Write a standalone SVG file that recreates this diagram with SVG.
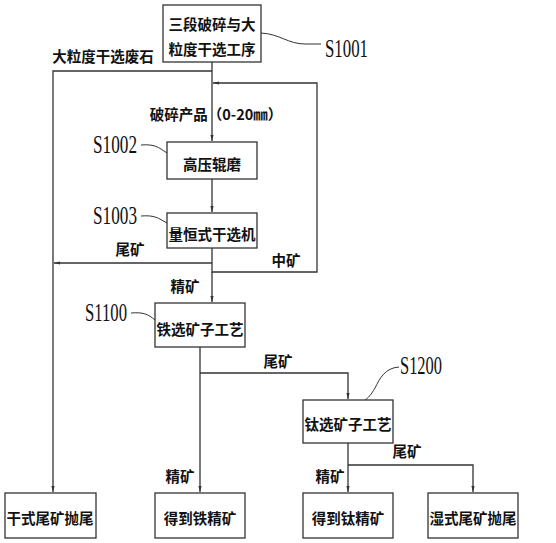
<svg xmlns="http://www.w3.org/2000/svg" width="556" height="543" viewBox="0 0 556 543">
<defs>
<marker id="ah" viewBox="0 0 6 4" refX="6" refY="2" markerWidth="6" markerHeight="4" markerUnits="userSpaceOnUse" orient="auto">
<path d="M0,0.4 L6,2 L0,3.6 z" fill="#333"/>
</marker>
<style>
.box{fill:#fff;stroke:#333;stroke-width:1.3}
.ln{fill:none;stroke:#333;stroke-width:1.3}
.ld{fill:none;stroke:#333;stroke-width:1}
.t{font-family:"Noto Sans CJK SC","Noto Sans",sans-serif;font-size:14.5px;fill:#111;text-anchor:middle;dominant-baseline:central;font-weight:700}
.s{font-family:"Liberation Serif",serif;font-size:25px;fill:#111}
</style>
</defs>
<rect width="556" height="543" fill="#fff"/>
<g id="connectors">
<path class="ln" d="M212,62 V141" marker-end="url(#ah)"/>
<path class="ln" d="M212,71 H53 V492" marker-end="url(#ah)"/>
<path class="ln" d="M212,179 V212" marker-end="url(#ah)"/>
<path class="ln" d="M212,248 V272 H317 V83 H213" marker-end="url(#ah)"/>
<path class="ln" d="M212,263 H54" marker-end="url(#ah)"/>
<path class="ln" d="M212,272 V302" marker-end="url(#ah)"/>
<path class="ln" d="M200,347 V492" marker-end="url(#ah)"/>
<path class="ln" d="M200,373 H348 V399" marker-end="url(#ah)"/>
<path class="ln" d="M348,443 V492" marker-end="url(#ah)"/>
<path class="ln" d="M348,465 H473 V492" marker-end="url(#ah)"/>
<path class="ld" d="M261,33 C280,34 288,44 305,44 L321,44"/>
<path class="ld" d="M141,145 C155,144 158,147 167,153"/>
<path class="ld" d="M141,216 C155,215 158,218 167,223"/>
<path class="ld" d="M131,313 C143,312 148,314 155,320"/>
<path class="ld" d="M399,367 C385,368 380,378 375,388 C371,395 368,398 365,400"/>
<text class="t" x="103" y="55">大粒度干选废石</text>
<text class="t" x="216" y="113">破碎产品（0-20㎜）</text>
<text class="t" x="130" y="248">尾矿</text>
<text class="t" x="286" y="259">中矿</text>
<text class="t" x="185" y="285">精矿</text>
<text class="t" x="278" y="360">尾矿</text>
<text class="t" x="407" y="450">尾矿</text>
<text class="t" x="330" y="475">精矿</text>
<text class="t" x="180" y="475">精矿</text>
<text class="s" x="325" y="57" textLength="43" lengthAdjust="spacingAndGlyphs">S1001</text>
<text class="s" x="93" y="153" textLength="44" lengthAdjust="spacingAndGlyphs">S1002</text>
<text class="s" x="93" y="224" textLength="44" lengthAdjust="spacingAndGlyphs">S1003</text>
<text class="s" x="85" y="321" textLength="42" lengthAdjust="spacingAndGlyphs">S1100</text>
<text class="s" x="400" y="374" textLength="42" lengthAdjust="spacingAndGlyphs">S1200</text>
</g>
<g id="S1001"><rect class="box" x="163" y="5" width="98" height="57"/><text class="t" x="212" y="23">三段破碎与大</text><text class="t" x="212" y="48">粒度干选工序</text></g>
<g id="S1002"><rect class="box" x="167" y="142" width="90" height="37"/><text class="t" x="212" y="163">高压辊磨</text></g>
<g id="S1003"><rect class="box" x="167" y="213" width="90" height="35"/><text class="t" x="212" y="233">量恒式干选机</text></g>
<g id="S1100"><rect class="box" x="155" y="303" width="90" height="44"/><text class="t" x="200" y="328">铁选矿子工艺</text></g>
<g id="S1200"><rect class="box" x="303" y="400" width="90" height="43"/><text class="t" x="348" y="423">钛选矿子工艺</text></g>
<g id="dry"><rect class="box" x="5" y="493" width="91" height="45"/><text class="t" x="50" y="517">干式尾矿抛尾</text></g>
<g id="fe"><rect class="box" x="155" y="493" width="90" height="45"/><text class="t" x="200" y="517">得到铁精矿</text></g>
<g id="ti"><rect class="box" x="303" y="493" width="90" height="45"/><text class="t" x="348" y="517">得到钛精矿</text></g>
<g id="wet"><rect class="box" x="428" y="493" width="90" height="45"/><text class="t" x="473" y="517">湿式尾矿抛尾</text></g>
</svg>
